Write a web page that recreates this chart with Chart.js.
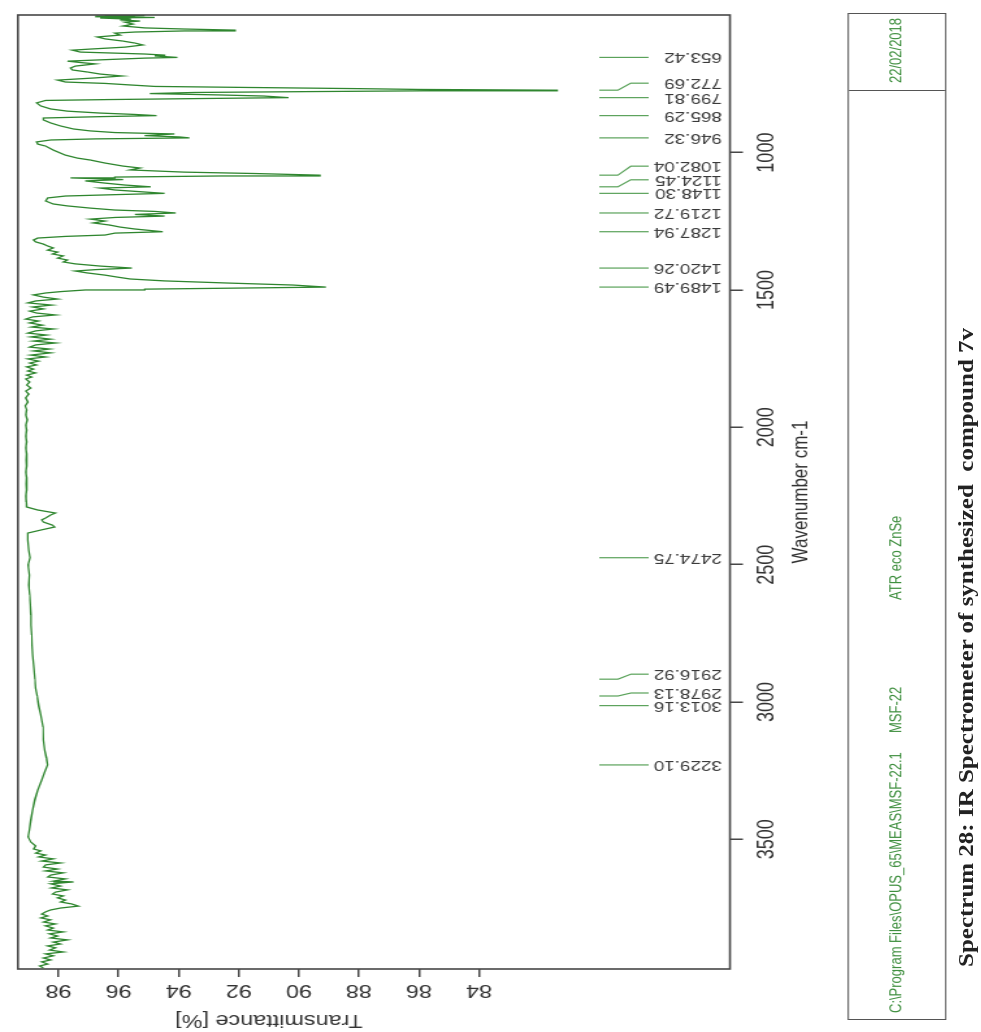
<!DOCTYPE html>
<html>
<head>
<meta charset="utf-8">
<title>IR Spectrum 7v</title>
<script src="https://cdn.jsdelivr.net/npm/chart.js@4.4.1/dist/chart.umd.min.js"></script>
<style>
  html, body { margin: 0; padding: 0; background: #fff; overflow: hidden; }
  body { width: 981px; height: 1032px; position: relative; }
  /* the OPUS print page is laid out landscape, then turned a quarter turn */
  #sheet {
    position: absolute; left: 0; top: 0;
    width: 1032px; height: 755px;
    transform-origin: 0 0;
    transform: translateY(1032px) rotate(-90deg) scaleY(1.3);
  }
  #sheet canvas { position: absolute; left: 0; top: 0; }
  .info {
    position: absolute; left: 12px; top: 651.5px; width: 1007px; height: 76.2px;
    border: 1.5px solid #555; box-sizing: border-box;
  }
  .info .cell-sep { position: absolute; left: 928px; top: 0; bottom: 0; border-left: 1.5px solid #555; }
  .info span {
    position: absolute; top: 26px; font: 13px "Liberation Sans", Arial, sans-serif;
    color: #3f8f3f; line-height: 20px; white-space: nowrap;
  }
  #caption {
    position: absolute; left: 954px; top: 967px;
    transform-origin: 0 0; transform: rotate(-90deg) scaleX(1.19);
    font: bold 21px "Liberation Serif", "Times New Roman", serif;
    color: #222; line-height: 24px; white-space: nowrap;
  }
</style>
</head>
<body>
<div id="sheet">
  <canvas id="ir" width="1032" height="755"></canvas>
  <div class="info">
    <div class="cell-sep"></div>
    <span style="left:6px">C:\Program Files\OPUS_65\MEAS\MSF-22.1</span>
    <span style="left:286px">MSF-22</span>
    <span style="left:419px">ATR eco ZnSe</span>
    <span style="left:936px">22/02/2018</span>
  </div>
</div>
<div id="caption">Spectrum 28: IR Spectrometer of synthesized&nbsp; compound 7v</div>

<script>
// ---- spectrum (wavenumber in cm-1, transmittance in %) ----
const wavenumber = [
  499, 501, 503, 505, 506, 508, 510, 514, 517, 521, 525, 532, 539, 546, 550, 554, 557, 561, 565, 572,
  579, 586, 594, 601, 608, 616, 623, 627, 634, 641, 645, 648, 653.42, 656, 663, 667, 672, 677, 685, 692,
  699, 707, 714, 721, 728, 736, 743, 748, 754, 759, 763, 767, 770, 772.69, 775, 778, 781, 785, 790, 794,
  799.81, 803, 807, 810, 819, 830, 841, 849, 856, 861, 865.29, 869, 874, 881, 892, 903, 914, 921, 927, 932,
  938, 943, 946.32, 950, 954, 961, 969, 976, 991, 1009, 1020, 1027, 1038, 1049, 1056, 1063, 1071, 1076, 1082.04, 1085,
  1089, 1092, 1098, 1103, 1111, 1118, 1124.45, 1129, 1136, 1148.30, 1153, 1158, 1165, 1176, 1187, 1194, 1202, 1209, 1214, 1219.72,
  1225, 1231, 1236, 1242, 1249, 1256, 1264, 1271, 1278, 1287.94, 1293, 1300, 1305, 1311, 1318, 1325, 1333, 1340, 1347, 1355,
  1362, 1369, 1376, 1384, 1391, 1398, 1405, 1413, 1420.26, 1426, 1431, 1438, 1446, 1453, 1460, 1467, 1475, 1482, 1489.49, 1493,
  1497, 1500, 1506, 1511, 1518, 1526, 1533, 1540, 1547, 1555, 1562, 1569, 1577, 1584, 1591, 1598, 1606, 1613, 1620, 1628,
  1635, 1642, 1649, 1657, 1664, 1671, 1679, 1686, 1693, 1700, 1708, 1715, 1722, 1729, 1737, 1744, 1751, 1759, 1766, 1773,
  1780, 1788, 1795, 1802, 1810, 1817, 1824, 1835, 1846, 1857, 1868, 1879, 1893, 1908, 1922, 1937, 1955, 1973, 1992, 2010,
  2032, 2053, 2075, 2097, 2119, 2141, 2163, 2184, 2206, 2228, 2250, 2272, 2290, 2301, 2312, 2319, 2330, 2337, 2345, 2356,
  2363, 2374, 2385, 2410, 2447, 2474.75, 2501, 2538, 2574, 2610, 2647, 2683, 2720, 2756, 2792, 2829, 2865, 2916.92, 2949, 2978.13,
  3013.16, 3047, 3091, 3138, 3175, 3204, 3229.10, 3255, 3284, 3320, 3357, 3393, 3429, 3466, 3491, 3510, 3524, 3535, 3542, 3550,
  3557, 3564, 3571, 3579, 3586, 3593, 3601, 3608, 3615, 3622, 3630, 3637, 3644, 3652, 3655, 3662, 3670, 3677, 3684, 3692,
  3699, 3706, 3713, 3721, 3728, 3735, 3743, 3750, 3757, 3764, 3772, 3779, 3786, 3793, 3801, 3808, 3815, 3823, 3830, 3837,
  3844, 3852, 3859, 3866, 3874, 3881, 3888, 3895, 3903, 3910, 3917, 3924, 3932, 3939, 3946, 3954, 3961, 3968
];
const transmittance = [
  96.45, 95.13, 96.78, 95.46, 96.12, 94.80, 96.61, 95.62, 95.95, 95.29, 95.79, 95.52, 95.85, 95.13, 93.81, 92.12, 93.81, 95.46, 96.12, 95.95,
  96.71, 96.45, 95.85, 95.46, 95.19, 95.79, 96.94, 97.54, 97.27, 95.13, 94.47, 94.80, 94.04, 95.13, 96.78, 97.70, 97.27, 96.78, 97.44, 97.60,
  97.54, 97.01, 96.61, 95.89, 96.78, 98.03, 97.77, 96.45, 95.56, 94.80, 91.50, 88.06, 85.99, 81.40, 85.89, 89.85, 93.48, 94.96, 92.65, 91.17,
  90.34, 93.15, 96.45, 98.43, 98.73, 98.59, 98.26, 97.70, 96.61, 95.46, 94.73, 96.61, 98.50, 98.50, 98.26, 97.93, 97.50, 96.94, 96.12, 94.14,
  95.13, 93.97, 93.64, 96.78, 98.26, 98.73, 98.69, 98.43, 98.17, 97.77, 97.37, 96.94, 96.45, 95.85, 95.29, 95.62, 93.81, 91.50, 89.30, 92.60,
  96.12, 97.60, 95.85, 97.11, 96.45, 95.79, 94.93, 96.61, 96.12, 94.47, 96.12, 97.77, 98.36, 98.43, 98.17, 97.70, 96.94, 96.12, 94.80, 94.10,
  95.46, 94.47, 96.12, 96.94, 96.45, 96.84, 96.28, 95.95, 95.46, 94.53, 96.12, 96.45, 97.77, 98.69, 98.83, 98.76, 98.50, 98.36, 98.17, 98.36,
  98.03, 98.20, 97.84, 98.03, 97.70, 97.84, 97.44, 96.61, 95.56, 96.78, 97.44, 97.04, 96.45, 96.05, 95.62, 94.47, 92.30, 90.20, 89.10, 91.90,
  95.13, 97.11, 97.93, 98.43, 98.83, 98.50, 98.03, 98.76, 99.02, 98.23, 98.86, 98.50, 98.96, 98.73, 98.10, 98.86, 99.09, 98.66, 98.96, 98.53,
  98.89, 98.17, 98.76, 99.02, 98.40, 98.92, 98.26, 98.83, 98.10, 98.76, 98.96, 98.30, 98.83, 98.26, 98.92, 98.43, 99.02, 98.66, 98.96, 98.73,
  99.06, 98.83, 99.02, 98.76, 99.06, 98.89, 99.09, 98.96, 99.06, 98.92, 99.09, 98.99, 99.09, 99.02, 99.11, 99.06, 99.09, 99.04, 99.09, 99.06,
  99.09, 99.06, 99.09, 99.06, 99.07, 99.06, 99.09, 99.06, 99.07, 99.06, 99.09, 99.07, 99.06, 98.69, 98.10, 98.26, 98.43, 98.56, 98.50, 98.20,
  98.13, 98.59, 99.02, 99.02, 98.99, 98.95, 99.01, 98.97, 98.99, 98.96, 98.94, 98.92, 98.91, 98.89, 98.88, 98.86, 98.83, 98.78, 98.76, 98.71,
  98.66, 98.59, 98.51, 98.50, 98.46, 98.40, 98.36, 98.46, 98.56, 98.69, 98.79, 98.86, 98.92, 98.97, 99.01, 98.92, 98.76, 98.83, 98.59, 98.76,
  98.43, 98.66, 98.17, 98.56, 97.93, 98.43, 98.50, 98.03, 98.43, 97.84, 98.26, 98.36, 97.77, 98.17, 97.50, 98.26, 97.93, 98.23, 97.70, 98.10,
  98.20, 97.84, 98.03, 97.77, 97.93, 97.57, 97.34, 97.93, 98.26, 98.43, 98.56, 98.36, 98.59, 98.26, 98.50, 98.10, 98.43, 98.17, 98.36, 97.84,
  98.30, 98.03, 98.26, 97.70, 98.17, 97.93, 98.36, 98.10, 98.30, 97.84, 98.43, 98.17, 98.50, 98.26, 98.56, 98.36, 98.63, 98.50
];

// ---- picked peaks ----
const peakPositions = [653.42, 772.69, 799.81, 865.29, 946.32, 1082.04, 1124.45, 1148.30, 1219.72, 1287.94,
                       1420.26, 1489.49, 2474.75, 2916.92, 2978.13, 3013.16, 3229.10];

// ---- axis ticks ----
const wavenumberTicks = [1000, 1500, 2000, 2500, 3000, 3500];
const transmittanceTicks = [84, 86, 88, 90, 92, 94, 96, 98];

// ---- page layout (px) ----
const STRETCH = 1.3;            // vertical stretch of the printed page
const labelNudge = {            // sideways offset of crowded peak labels
  '772.69': 7, '1082.04': 9, '1124.45': 7, '2916.92': 5, '2978.13': 3
};
const LEADER = { start: 80.0, bendStart: 79.38, bendEnd: 78.95, end: 78.36, text: 75.92 };

const FONT = '"Liberation Sans", Arial, Helvetica, sans-serif';

const pageDecor = {
  id: 'pageDecor',
  afterDatasetsDraw(chart) {
    const { ctx, chartArea: a, scales: { x, y } } = chart;
    ctx.save();
    // plot frame
    ctx.strokeStyle = '#474747';
    ctx.lineWidth = 1.6;
    ctx.strokeRect(a.left, a.top, a.right - a.left, a.bottom - a.top);

    // peak markers with their values
    ctx.font = '14.5px ' + FONT;
    ctx.textAlign = 'left';
    ctx.textBaseline = 'middle';
    peakPositions.forEach(wn => {
      const label = wn.toFixed(2);
      const px = x.getPixelForValue(wn);
      const lx = px + (labelNudge[label] || 0);
      ctx.strokeStyle = '#5aa25a';
      ctx.lineWidth = 1.2;
      ctx.beginPath();
      ctx.moveTo(px, y.getPixelForValue(LEADER.start));
      ctx.lineTo(px, y.getPixelForValue(LEADER.bendStart));
      ctx.lineTo(lx, y.getPixelForValue(LEADER.bendEnd));
      ctx.lineTo(lx, y.getPixelForValue(LEADER.end));
      ctx.stroke();
      ctx.save();
      ctx.translate(lx, y.getPixelForValue(LEADER.text));
      ctx.rotate(-Math.PI / 2);
      ctx.fillStyle = '#3a3a3a';
      ctx.fillText(label, 0, 0);
      ctx.restore();
    });

    // transmittance axis title
    ctx.save();
    ctx.translate(12, 269 / STRETCH);
    ctx.rotate(-Math.PI / 2);
    ctx.textAlign = 'center';
    ctx.font = '18px ' + FONT;
    ctx.fillStyle = '#333';
    ctx.fillText('Transmittance [%]', 0, 0);
    ctx.restore();
    ctx.restore();
  }
};

const H = 755;
const plotTop = 12 / STRETCH, plotBottom = 730 / STRETCH;
const xAxisHeight = 80;

new Chart(document.getElementById('ir'), {
  type: 'scatter',
  data: {
    datasets: [{
      data: wavenumber.map((w, i) => ({ x: w, y: transmittance[i] })),
      showLine: true,
      borderColor: '#2f862f',
      borderWidth: 1.3,
      pointRadius: 0,
      tension: 0
    }]
  },
  options: {
    responsive: false,
    animation: false,
    devicePixelRatio: 1,
    layout: { padding: { left: 0, right: 15, top: plotTop, bottom: H - plotBottom - xAxisHeight } },
    plugins: { legend: { display: false }, tooltip: { enabled: false } },
    scales: {
      x: {
        type: 'linear', min: 499, max: 3972, reverse: true,
        afterBuildTicks: s => { s.ticks = wavenumberTicks.map(v => ({ value: v })); },
        afterFit: s => { s.height = xAxisHeight; },
        grid: { drawOnChartArea: false, drawTicks: true, tickLength: 10, color: '#474747', lineWidth: 1.5 },
        border: { display: false },
        ticks: { autoSkip: false, maxRotation: 0, minRotation: 0, padding: 7.7, color: '#333',
                 font: { family: FONT, size: 18 }, callback: v => String(v) },
        title: { display: true, text: 'Wavenumber cm-1', color: '#333',
                 font: { family: FONT, size: 17 }, padding: { top: 0, bottom: 15 } }
      },
      y: {
        type: 'linear', min: 75.65, max: 99.35,
        afterBuildTicks: s => { s.ticks = transmittanceTicks.map(v => ({ value: v })); },
        afterFit: s => { s.width = 63; },
        grid: { drawOnChartArea: false, drawTicks: true, tickLength: 8, color: '#474747', lineWidth: 1.5 },
        border: { display: false },
        ticks: { autoSkip: false, minRotation: 90, maxRotation: 90, crossAlign: 'center', padding: 3,
                 color: '#333', font: { family: FONT, size: 18 }, callback: v => String(v) }
      }
    }
  },
  plugins: [pageDecor]
});
</script>
</body>
</html>
